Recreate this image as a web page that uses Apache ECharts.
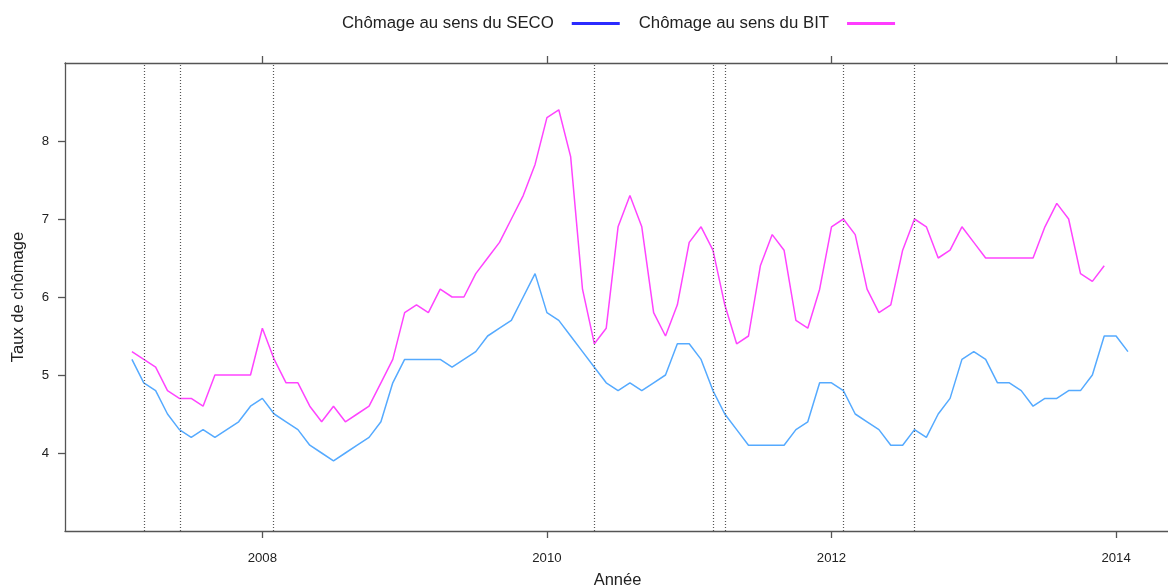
<!DOCTYPE html>
<html lang="fr">
<head>
    <meta charset="UTF-8">
    <title>Taux de chômage SECO / BIT</title>
    <script type="text/javascript" src="https://cdn.jsdelivr.net/npm/echarts@6/dist/echarts.min.js"></script>
    <style>
        body{
            padding: 0px;
            margin: 0px;
            background-color: #ffffff;
        }
        #chart{
            width: 1168px;
            height: 586px;
        }
    </style>
</head>
<body>
<div id="chart"></div>
<script>
    // series mensuelles, première valeur = février 2007
    var startYear = 2007;
    var startMonth = 2;

    var seco = [
        5.2, 4.9, 4.8, 4.5, 4.3, 4.2, 4.3, 4.2, 4.3, 4.4, 4.6,
        4.7, 4.5, 4.4, 4.3, 4.1, 4.0, 3.9, 4.0, 4.1, 4.2, 4.4, 4.9,
        5.2, 5.2, 5.2, 5.2, 5.1, 5.2, 5.3, 5.5, 5.6, 5.7, 6.0, 6.3,
        5.8, 5.7, 5.5, 5.3, 5.1, 4.9, 4.8, 4.9, 4.8, 4.9, 5.0, 5.4,
        5.4, 5.2, 4.8, 4.5, 4.3, 4.1, 4.1, 4.1, 4.1, 4.3, 4.4, 4.9,
        4.9, 4.8, 4.5, 4.4, 4.3, 4.1, 4.1, 4.3, 4.2, 4.5, 4.7, 5.2,
        5.3, 5.2, 4.9, 4.9, 4.8, 4.6, 4.7, 4.7, 4.8, 4.8, 5.0, 5.5,
        5.5, 5.3
    ];

    var bit = [
        5.3, 5.2, 5.1, 4.8, 4.7, 4.7, 4.6, 5.0, 5.0, 5.0, 5.0,
        5.6, 5.2, 4.9, 4.9, 4.6, 4.4, 4.6, 4.4, 4.5, 4.6, 4.9, 5.2,
        5.8, 5.9, 5.8, 6.1, 6.0, 6.0, 6.3, 6.5, 6.7, 7.0, 7.3, 7.7,
        8.3, 8.4, 7.8, 6.1, 5.4, 5.6, 6.9, 7.3, 6.9, 5.8, 5.5, 5.9,
        6.7, 6.9, 6.6, 5.9, 5.4, 5.5, 6.4, 6.8, 6.6, 5.7, 5.6, 6.1,
        6.9, 7.0, 6.8, 6.1, 5.8, 5.9, 6.6, 7.0, 6.9, 6.5, 6.6, 6.9,
        6.7, 6.5, 6.5, 6.5, 6.5, 6.5, 6.9, 7.2, 7.0, 6.3, 6.2, 6.4
    ];

    // dates des lignes verticales pointillées
    var ruptures = ['2007-03', '2007-06', '2008-02', '2010-05', '2011-03', '2011-04', '2012-02', '2012-08'];

    var yearTicks = [2008, 2010, 2012, 2014];
    var rateTicks = [4, 5, 6, 7, 8];

    function monthPos(i) {
        return startYear + (startMonth - 1 + i) / 12;
    }
    function datePos(s) {
        var p = s.split('-');
        return Number(p[0]) + (Number(p[1]) - 1) / 12;
    }

    var axisColor = '#555555';
    var font = 'Liberation Sans, Arial, sans-serif';

    var chart = echarts.init(document.getElementById('chart'), null, {renderer: 'canvas'});

    var xBase = {
        type: 'value',
        min: 2006.613,
        max: 2014.379,
        splitLine: {show: false},
        axisLine: {show: true, lineStyle: {color: axisColor, width: 1.3}},
        axisTick: {show: true, length: 7, customValues: yearTicks, lineStyle: {color: axisColor, width: 1.3}}
    };

    chart.setOption({
        animation: false,
        textStyle: {fontFamily: font},
        grid: {left: 65, right: -2, top: 63, bottom: 55, outerBoundsMode: 'none', containLabel: false},
        legend: {
            top: 10,
            left: 337,
            align: 'right',
            icon: 'rect',
            itemWidth: 48,
            itemHeight: 3,
            itemGap: 19,
            textStyle: {fontSize: 16.8, color: '#222', fontFamily: font, padding: [0, 13, 0, 0]},
            data: [
                {name: 'Chômage au sens du SECO', itemStyle: {color: '#2b2bff'}},
                {name: 'Chômage au sens du BIT', itemStyle: {color: '#ff3cff'}}
            ]
        },
        xAxis: [
            Object.assign({}, xBase, {
                position: 'bottom',
                name: 'Année',
                nameLocation: 'middle',
                nameGap: 41,
                nameTextStyle: {fontSize: 16.5, color: '#222'},
                axisLabel: {
                    customValues: yearTicks, fontSize: 13.2, color: '#222', margin: 21,
                    formatter: function (v) { return String(v); }
                }
            }),
            Object.assign({}, xBase, {
                position: 'top',
                axisLabel: {show: false}
            })
        ],
        yAxis: {
            type: 'value',
            min: 3,
            max: 9,
            splitLine: {show: false},
            axisLine: {show: true, lineStyle: {color: axisColor, width: 1.3}},
            axisTick: {show: true, length: 7, customValues: rateTicks, lineStyle: {color: axisColor, width: 1.3}},
            axisLabel: {customValues: rateTicks, fontSize: 13.2, color: '#222', margin: 16},
            name: 'Taux de chômage',
            nameLocation: 'middle',
            nameGap: 38,
            nameTextStyle: {fontSize: 16.5, color: '#222'}
        },
        series: [
            {
                name: 'Chômage au sens du SECO',
                type: 'line',
                showSymbol: false,
                color: '#55aaff',
                lineStyle: {width: 1.5, color: '#55aaff'},
                data: seco.map(function (v, i) { return [monthPos(i), v]; }),
                markLine: {
                    silent: true,
                    symbol: ['none', 'none'],
                    label: {show: false},
                    lineStyle: {color: '#555', type: [1, 2], width: 1.2},
                    data: ruptures.map(function (d) { return {xAxis: datePos(d)}; })
                }
            },
            {
                name: 'Chômage au sens du BIT',
                type: 'line',
                showSymbol: false,
                color: '#ff44ff',
                lineStyle: {width: 1.5, color: '#ff44ff'},
                data: bit.map(function (v, i) { return [monthPos(i), v]; })
            }
        ]
    });
</script>
</body>
</html>
